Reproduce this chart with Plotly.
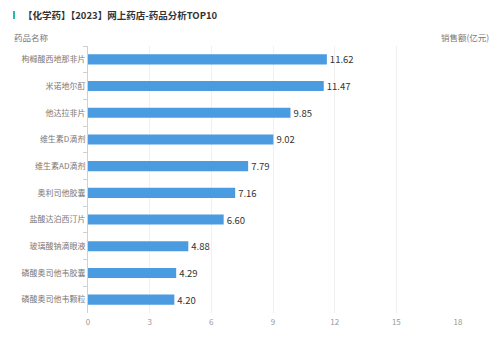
import plotly.graph_objects as go

drugs = ["枸橼酸西地那非片", "米诺地尔酊", "他达拉非片", "维生素D滴剂", "维生素AD滴剂",
         "奥利司他胶囊", "盐酸达泊西汀片", "玻璃酸钠滴眼液", "磷酸奥司他韦胶囊", "磷酸奥司他韦颗粒"]
sales = [11.62, 11.47, 9.85, 9.02, 7.79, 7.16, 6.60, 4.88, 4.29, 4.20]
x_ticks = [0, 3, 6, 9, 12, 15, 18]

OFF = 8  # page body margin
W, H = 504 - OFF, 364 - OFF
L, R, T, B = 88 - OFF, 46, 46 - OFF, 51
PW, PH = W - L - R, H - T - B
FONT = "Noto Sans CJK SC"

def px_x(x):  # page x -> paper
    return (x - OFF - L) / PW

def px_y(y):  # page y -> paper
    return 1 - (y - OFF - T) / PH

fig = go.Figure(go.Bar(
    x=sales, y=drugs, orientation="h",
    marker=dict(color="#4a9be0", line=dict(width=0)),
    text=[f"{v:.2f}" for v in sales], textposition="outside",
    constraintext="none",
    textfont=dict(size=9.5, color="#333333", family=FONT),
    cliponaxis=False, width=0.38,
))

fig.update_layout(
    width=W, height=H,
    margin=dict(l=L, r=R, t=T, b=B, autoexpand=False),
    plot_bgcolor="white", paper_bgcolor="white",
    showlegend=False,
    font=dict(family=FONT),
    xaxis=dict(range=[0, 18], tickvals=x_ticks, showgrid=True, gridcolor="#f0f0f0",
               gridwidth=1, zeroline=False, showline=False, automargin=False,
               tickfont=dict(size=8, color="#999999"), ticks="", ticklabelstandoff=3),
    yaxis=dict(autorange="reversed", showline=True, linecolor="#d0d0d0", linewidth=1,
               ticks="outside", tickson="boundaries", ticklen=4, tickcolor="#d0d0d0",
               automargin=False,
               tickfont=dict(size=8, color="#777777"), showgrid=False),
    shapes=[dict(type="rect", xref="paper", yref="paper",
                 x0=px_x(13), x1=px_x(15),
                 y0=px_y(19), y1=px_y(11),
                 fillcolor="#2ab7a9", line=dict(width=0))],
    annotations=[
        dict(text="<b>【化学药】【2023】网上药店-药品分析TOP10</b>", xref="paper", yref="paper",
             x=px_x(21), y=px_y(15), xanchor="left", yanchor="middle",
             showarrow=False, font=dict(size=9.5, color="#333333", family=FONT)),
        dict(text="药品名称", xref="paper", yref="paper",
             x=px_x(12), y=px_y(37), xanchor="left", yanchor="middle",
             showarrow=False, font=dict(size=8.5, color="#777777", family=FONT)),
        dict(text="销售额(亿元)", xref="paper", yref="paper",
             x=px_x(491), y=px_y(37), xanchor="right", yanchor="middle",
             showarrow=False, font=dict(size=8.5, color="#777777", family=FONT)),
    ],
)

fig.write_html("out.html")
